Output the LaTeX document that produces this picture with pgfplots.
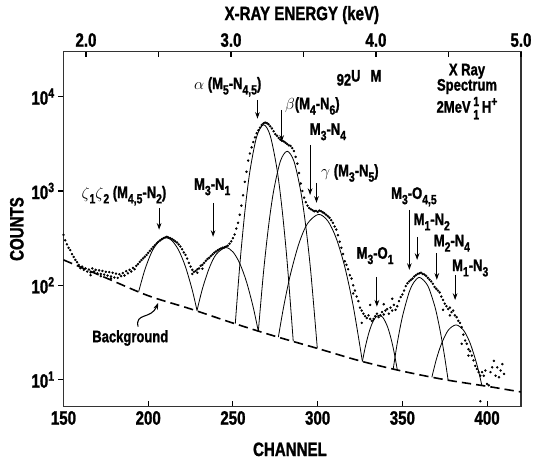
\documentclass[border=0pt]{standalone}
\usepackage{pgfplots}
\pgfplotsset{compat=1.18}
\usepackage{fontspec}
\setmainfont{Liberation Sans}[FakeStretch=0.78, BoldFeatures={FakeBold=1.3}]
\usetikzlibrary{arrows.meta}

\newcommand\lf{\fontsize{12.5}{12.5}\selectfont\bfseries}
\newcommand\tf{\fontsize{14.5}{14.5}\selectfont\bfseries}
\newcommand\sub[1]{\raisebox{-0.32em}{\fontsize{10}{10}\selectfont #1}}

\begin{document}
\begin{tikzpicture}[arr/.style={-{Stealth[length=5pt,width=3.5pt]}, line width=0.7pt}]
\begin{axis}[
    name=main,
    scale only axis, width=343pt, height=266pt,
    xmin=150, xmax=420,
    ymode=log, ymin=5.2, ymax=30000,
    xtick={150,200,...,400},
    xticklabels={150,200,250,300,350,400},
    ytick={10,100,1000,10000},
    yticklabels={10\textsuperscript{1},10\textsuperscript{2},10\textsuperscript{3},10\textsuperscript{4}},
    yminorticks=false,
    xtick pos=left, ytick pos=left,
    tick align=inside, major tick length=4pt,
    ytick style={xshift=-4pt},
    yticklabel style={xshift=-3pt},
    tick style={line width=0.8pt, black},
    tick label style={font=\tf},
    axis line style={line width=0.9pt, black!80},
    xlabel={CHANNEL}, ylabel={COUNTS},
    xlabel style={at={(axis description cs:0.495,-0.121)}, anchor=center, font=\tf},
    ylabel style={at={(axis description cs:-0.102,0.5)}, anchor=center, font=\tf},
]
% background
\addplot[black, line width=1.2pt, dash pattern=on 7pt off 3.8pt, smooth] coordinates {
 (150,186) (175,120) (200,77.6) (225,56.2) (250,39.8) (275,28.8) (300,21.4)
 (325,15.8) (350,12.3) (375,10.0) (400,8.5) (420,7.4)};
% fitted peaks
\addplot[black, line width=0.6pt, smooth] coordinates {
 (194.4,86.1) (198,146) (202,224) (206,290) (210.3,320) (214,298) (218,235) (222,157) (226,89) (228.8,54)};
\addplot[black, line width=0.6pt, smooth] coordinates {
 (228.8,54) (232,92) (236,152) (240,212) (245.6,251) (250,226) (254,171) (258,109) (262,58.2) (265,32.4)};
\addplot[black, line width=0.6pt, smooth] coordinates {
 (251.4,39.3) (254,160) (257,594) (260,1614) (264,3758) (268.1,5035) (272,3864) (276,1706) (279,641) (282,177) (285.6,25.4)};
\addplot[black, line width=0.6pt, smooth] coordinates {
 (265,32.8) (268,135) (271,421) (274,998) (278,2070) (282,2636) (286,2070) (290,998) (293,421) (296,135) (299.8,21.4)};
\addplot[black, line width=0.6pt, smooth] coordinates {
 (276.8,28.2) (280,60.1) (284,132) (289,279) (294,451) (300.5,565) (306,481) (311,314) (316,157) (321,60.1) (326.4,15.6)};
\addplot[black, line width=0.6pt, smooth] coordinates {
 (326.4,15.6) (328,21.7) (330,30.4) (332,38.9) (334,45.3) (336.3,48.2) (338.5,45.6) (341,37.3) (343,28.6) (345,20.0) (347,12.7)};
\addplot[black, line width=0.6pt, smooth] coordinates {
 (344.6,13.0) (347,24.5) (350,46.3) (354,84.5) (357,109) (360.3,121) (365,98.9) (369,61.1) (371,43) (373,28.2) (375,17.2) (377,9.9)};
\addplot[black, line width=0.6pt, smooth] coordinates {
 (367.4,10.6) (370,16.3) (373,23.8) (377,33.3) (381.6,38.0) (386,33.6) (390,24.3) (394,14.4) (396.9,8.7)};
% measured spectrum
\addplot[only marks, mark=*, mark size=0.7pt, black] coordinates {
 (150,343) (151,300) (152,272) (153,250) (154,236) (155,214) (156,200) (157,186) (158,176) (159,164)
 (160,152) (161,158) (162,146) (163,151) (164,140) (165,147) (166,137) (167,151) (168,140) (169,146)
 (170,134) (171,144) (172,132) (173,142) (174,130) (175,139) (176,127) (177,138) (178,124) (179,136)
 (180,121) (181,133) (182,120) (183,131) (184,125) (185,135) (186,127) (187,141) (188,134) (189,146)
 (190,140) (191,153) (192,148) (193,161) (194,168) (195,177) (196,185) (197,193) (198,201) (199,210)
 (200,221) (201,232) (202,243) (203,255) (204,266) (205,278) (206,290) (207,299) (208,308) (209,316)
 (210,322) (211,327) (212,321) (213,316) (214,310) (215,301) (216,292) (217,284) (218,271) (219,258)
 (220,241) (221,223) (222,210) (223,192) (224,173) (225,158) (226,146) (227,139) (228,142) (229,148)
 (230,151) (231,161) (232,165) (233,173) (234,182) (235,190) (236,196) (237,205) (238,213) (239,222)
 (240,228) (241,235) (242,241) (243,246) (244,250) (245,253) (246,258) (247,263) (248,276) (249,292)
 (250,316) (251,346) (252,400) (253,460) (254,560) (255,700) (256,900) (257,1250) (258,1600) (259,2100)
 (260,2500) (261,2900) (262,3300) (263,3700) (264,4100) (265,4400) (266,4700) (267,5000) (268,5200) (269,5300)
 (270,5250) (271,5100) (272,4850) (273,4600) (274,4300) (275,4000) (276,3850) (277,3650) (278,3500) (279,3400)
 (280,3350) (281,3250) (282,3150) (283,3050) (284,3000) (285,2850) (286,2650) (287,2300) (288,1950) (289,1550)
 (290,1200) (291,1000) (292,850) (293,760) (294,700) (295,660) (296,640) (297,625) (298,610) (299,615)
 (300,600) (301,620) (302,610) (303,595) (304,580) (305,560) (306,540) (307,520) (308,490) (309,460)
 (310,420) (311,390) (312,340) (313,290) (314,250) (315,215) (316,180) (317,165) (318,148) (319,128)
 (320,118) (321,100) (322,88) (323,76) (324,68) (325,58) (326,54) (327,50) (328,47) (329,45)
 (330,48) (331,44) (332,42) (333,44) (334,47) (335,50) (336,46) (337,48) (338,52) (339,49)
 (340,54) (341,56) (342,50) (343,58) (344,54) (345,62) (346,55) (347,60) (348,68) (349,75)
 (350,80) (351,88) (352,98) (353,105) (354,110) (355,114) (356,118) (357,124) (358,128) (359,132)
 (360,134) (361,136) (362,132) (363,130) (364,126) (365,120) (366,115) (367,110) (368,104) (369,96)
 (370,92) (371,88) (372,84) (373,76) (374,70) (375,64) (376,60) (377,56) (378,58) (379,52)
 (380,54) (381,48) (382,46) (383,42) (384,40) (385,36) (386,30) (387,26) (388,24) (389,21)
 (390,20) (391,18) (392,16) (393,14) (394,13) (395,12) (396,11) (397,12) (398,11) (399,12.5)
 (400,9) (401,8.7) (402,12) (403,13.5) (404,15.8) (405,11) (406,13.5) (407,10.6) (408,12.5) (409,14.6)
 (410,11.5) (396,5.9)
 (331,62) (335,66) (339,63) (344,72) (326,40) (321,82) (385,24) (389,18) (374,55) (378,48)
 (226,132) (229,136) (232,150) (166,128) (172,125) (178,118)};
% annotations
\node[font=\lf] at (rel axis cs:0.132,0.594) {$\zeta$\sub{1}$\zeta$\sub{2} (M\sub{4,5}-N\sub{2})};
\draw[arr] (rel axis cs:0.209,0.560) -- (rel axis cs:0.209,0.498);
\node[font=\lf] at (rel axis cs:0.325,0.619) {M\sub{3}-N\sub{1}};
\draw[arr] (rel axis cs:0.327,0.574) -- (rel axis cs:0.327,0.478);
\node[font=\lf] at (rel axis cs:0.359,0.901) {$\alpha$ (M\sub{5}-N\sub{4,5})};
\draw[arr] (rel axis cs:0.424,0.864) -- (rel axis cs:0.424,0.811);
\node[font=\lf] at (rel axis cs:0.544,0.847) {$\beta$(M\sub{4}-N\sub{6})};
\draw[arr] (rel axis cs:0.477,0.836) -- (rel axis cs:0.477,0.746);
\node[font=\lf] at (rel axis cs:0.578,0.774) {M\sub{3}-N\sub{4}};
\draw[arr] (rel axis cs:0.539,0.737) -- (rel axis cs:0.539,0.596);
\node[font=\lf] at (rel axis cs:0.626,0.658) {$\gamma$ (M\sub{3}-N\sub{5})};
\draw[arr] (rel axis cs:0.553,0.630) -- (rel axis cs:0.553,0.574);
\node[font=\lf] at (rel axis cs:0.681,0.425) {M\sub{3}-O\sub{1}};
\draw[arr] (rel axis cs:0.685,0.365) -- (rel axis cs:0.685,0.281);
\node[font=\lf] at (rel axis cs:0.766,0.591) {M\sub{3}-O\sub{4,5}};
\draw[arr] (rel axis cs:0.756,0.554) -- (rel axis cs:0.756,0.385);
\node[font=\lf] at (rel axis cs:0.805,0.520) {M\sub{1}-N\sub{2}};
\draw[arr] (rel axis cs:0.773,0.478) -- (rel axis cs:0.773,0.413);
\node[font=\lf] at (rel axis cs:0.849,0.460) {M\sub{2}-N\sub{4}};
\draw[arr] (rel axis cs:0.816,0.432) -- (rel axis cs:0.816,0.357);
\node[font=\lf] at (rel axis cs:0.889,0.390) {M\sub{1}-N\sub{3}};
\draw[arr] (rel axis cs:0.856,0.371) -- (rel axis cs:0.856,0.300);
\node[font=\lf] at (rel axis cs:0.646,0.926) {\raisebox{-0.45ex}{92}U\hspace{0.6em}M};
\node[font=\lf, align=center] at (rel axis cs:0.882,0.923) {X Ray\\[-1pt]Spectrum};
\node[font=\lf] at (rel axis cs:0.882,0.841) {2MeV\,\rlap{\raisebox{0.75ex}{\fontsize{10}{10}\selectfont 1}}\raisebox{-0.75ex}{\fontsize{10}{10}\selectfont 1}\,H\raisebox{0.75ex}{\fontsize{10}{10}\selectfont +}};
\node[font=\lf] at (rel axis cs:0.146,0.193) {Background};
\draw[arr, line width=0.8pt] (rel axis cs:0.163,0.225) .. controls (rel axis cs:0.156,0.265) and (rel axis cs:0.192,0.245) .. (rel axis cs:0.207,0.292);
\coordinate (bl) at (rel axis cs:-0.1388,-0.150);
\coordinate (tr) at (rel axis cs:1.035,1.1456);
\end{axis}
\begin{axis}[
    at={(main.south west)}, anchor=south west,
    scale only axis, width=343pt, height=266pt,
    xmin=1.845, xmax=5.0, ymin=0, ymax=1,
    hide y axis,
    axis line style={draw=none},
    xtick={2,2.5,...,5},
    xticklabels={2.0,,3.0,,4.0,,5.0},
    xtick pos=right, xticklabel pos=right,
    tick align=inside, major tick length=4pt,
    tick style={line width=0.8pt, black},
    tick label style={font=\tf},
    xlabel={X-RAY ENERGY (keV)},
    xlabel style={at={(axis description cs:0.521,1.103)}, anchor=center, font=\tf},
]
\addplot[draw=none] coordinates {(3,0.5)};
\end{axis}
\pgfresetboundingbox
\useasboundingbox (bl) rectangle (tr);
\end{tikzpicture}
\end{document}
